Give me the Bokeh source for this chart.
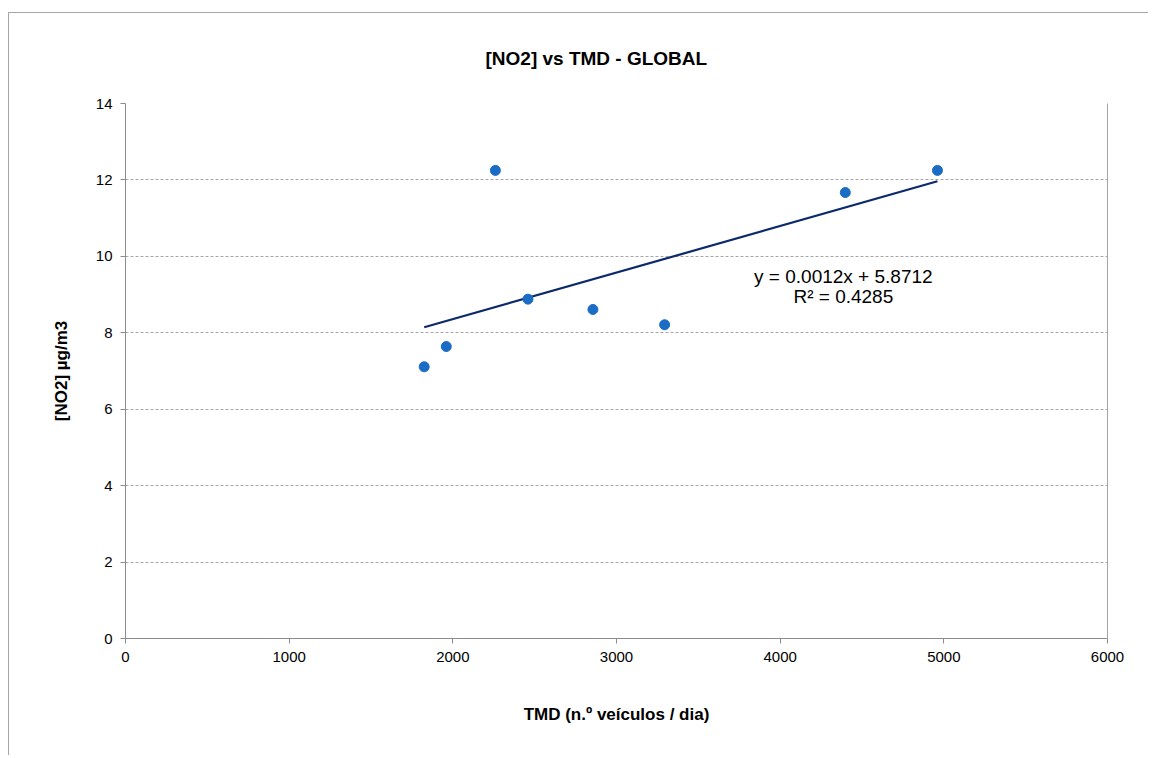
import numpy as np
from bokeh.plotting import figure
from bokeh.models import Label, LinearAxis, Range1d, FixedTicker
from bokeh.embed import file_html
from bokeh.resources import INLINE

# ---- data ----
title_text = "[NO2] vs TMD  - GLOBAL"
x_label = "TMD (n.º veículos / dia)"
y_label = "[NO2] µg/m3"
tmd = [1825, 1960, 2260, 2459, 2856, 3294, 4398, 4961]
no2 = [7.11, 7.64, 12.25, 8.88, 8.61, 8.21, 11.67, 12.25]
x_ticks = [0, 1000, 2000, 3000, 4000, 5000, 6000]
y_ticks = [0, 2, 4, 6, 8, 10, 12, 14]
eq_slope = 0.0012
eq_intercept = 5.8712
eq_r2 = 0.4285

FONT = "Liberation Sans"
AXIS_COLOR = "#8c8c8c"

p = figure(width=1140, height=743, output_backend="svg", toolbar_location=None,
           x_range=Range1d(0, 6000), y_range=Range1d(0, 14),
           min_border_left=116, min_border_right=42, min_border_top=90,
           min_border_bottom=118)
p.styles = {"margin-top": "12px", "margin-left": "8px",
            "border-top": "1px solid #a6a6a6",
            "border-left": "1px solid #a6a6a6"}
p.outline_line_color = None
p.background_fill_color = "white"
p.border_fill_color = "white"

# title
p.title.text = title_text
p.title.align = "left"
p.title.offset = 360
p.title.vertical_align = "top"
p.title.standoff = 66
p.title.text_font = FONT
p.title.text_font_size = "19px"
p.title.text_font_style = "bold"
p.title.text_color = "#000000"

# grid
p.xgrid.visible = False
p.ygrid.ticker = FixedTicker(ticks=y_ticks)
p.ygrid.grid_line_color = "#a6a6a6"
p.ygrid.grid_line_dash = "3 2"
p.ygrid.grid_line_width = 1

# axes
for ax in (p.xaxis[0], p.yaxis[0]):
    ax.axis_line_color = AXIS_COLOR
    ax.major_tick_line_color = AXIS_COLOR
    ax.major_tick_out = 5
    ax.major_tick_in = 0
    ax.minor_tick_line_color = None
    ax.major_label_text_font = FONT
    ax.major_label_text_font_size = "15px"
    ax.major_label_text_color = "#000000"
    ax.axis_label_text_font = FONT
    ax.axis_label_text_font_size = "17px"
    ax.axis_label_text_font_style = "bold"
    ax.axis_label_text_color = "#000000"
p.xaxis[0].ticker = FixedTicker(ticks=x_ticks)
p.yaxis[0].ticker = FixedTicker(ticks=y_ticks)
p.xaxis[0].axis_label = x_label
p.yaxis[0].axis_label = y_label
p.xaxis[0].major_label_standoff = 8
p.yaxis[0].major_label_standoff = 8
p.xaxis[0].axis_label_standoff = 40
p.yaxis[0].axis_label_standoff = 22

# right border of plot area
right_ax = LinearAxis(major_tick_line_color=None, minor_tick_line_color=None,
                      major_label_text_font_size="0px", axis_line_color="#a6a6a6")
right_ax.ticker = FixedTicker(ticks=[])
p.add_layout(right_ax, "right")

# trendline from least squares fit of the data
slope, intercept = np.polyfit(tmd, no2, 1)
xs = np.array([min(tmd), max(tmd)])
p.line(xs, slope * xs + intercept, line_color="#0c2a6a", line_width=2.2)

# points
p.scatter(tmd, no2, size=10, fill_color="#1a6cc4", line_color="#1a6cc4")

# equation text
eq1 = f"y = {eq_slope:.4f}x + {eq_intercept:.4f}"
eq2 = f"R² = {eq_r2:.4f}"
p.add_layout(Label(x=4386, y=9.46, text=eq1, text_align="center",
                   text_baseline="middle", text_font=FONT, text_font_size="19px",
                   text_color="#000000"))
p.add_layout(Label(x=4386, y=8.94, text=eq2, text_align="center",
                   text_baseline="middle", text_font=FONT, text_font_size="19px",
                   text_color="#000000"))

open("out.html", "w").write(file_html(p, INLINE))
